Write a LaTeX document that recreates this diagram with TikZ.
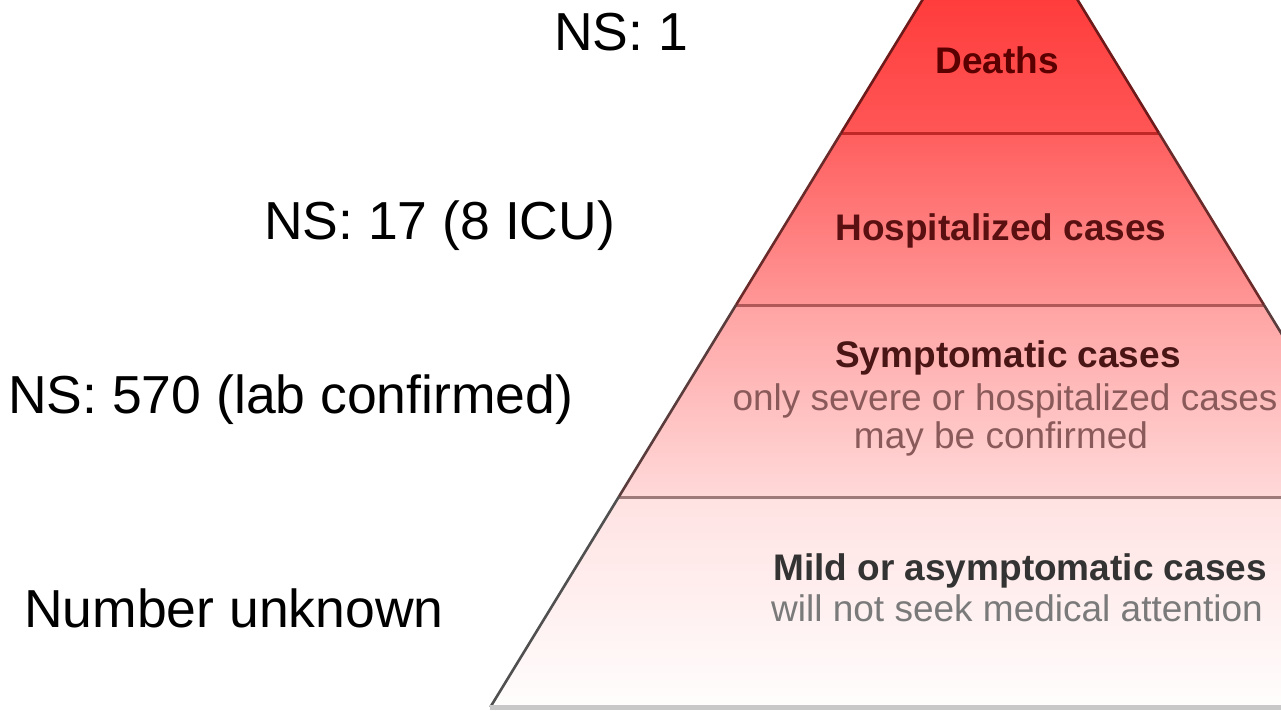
\documentclass[tikz,border=0pt]{standalone}
\usepackage{fontspec}
\setmainfont{Liberation Sans}
\definecolor{bandAtop}{HTML}{FF2424}
\definecolor{bandAbot}{HTML}{FF5656}
\definecolor{bandBtop}{HTML}{FF5E5E}
\definecolor{bandBbot}{HTML}{FF9797}
\definecolor{bandCtop}{HTML}{FFA3A3}
\definecolor{bandCbot}{HTML}{FFD9D9}
\definecolor{bandDtop}{HTML}{FFE2E2}
\definecolor{bandDbot}{HTML}{FFFDFD}
\definecolor{divA}{HTML}{C02828}
\definecolor{divB}{HTML}{B05858}
\definecolor{divC}{HTML}{9E7A7A}
\definecolor{edgeA}{HTML}{6E1A1A}
\definecolor{edgeB}{HTML}{6A2A2A}
\definecolor{edgeC}{HTML}{5A3C3C}
\definecolor{edgeD}{HTML}{505050}
\definecolor{txtA}{HTML}{5A0000}
\definecolor{txtB}{HTML}{5A1010}
\definecolor{txtC}{HTML}{4A1515}
\definecolor{subC}{HTML}{8A5A5A}
\definecolor{txtD}{HTML}{333333}
\definecolor{subD}{HTML}{7A7A7A}
\definecolor{baseGray}{HTML}{C8C8C8}
\begin{document}
\begin{tikzpicture}[x=1pt,y=-1pt,
  lbl/.style={anchor=base west, inner sep=0pt, font=\fontsize{53.5}{62}\selectfont},
  ttl/.style={anchor=base, inner sep=0pt, font=\fontsize{37}{44}\selectfont\bfseries},
  sub/.style={anchor=base, inner sep=0pt, font=\fontsize{37}{44}\selectfont},
  edgeline/.style={line width=2.6pt},
  divline/.style={line width=3pt}]
\useasboundingbox (0,0) rectangle (1281,710);
\fill[white] (0,0) rectangle (1281,710);
\begin{scope}
\clip (0,0) rectangle (1281,710);
% pyramid corner coordinates
\coordinate (apex) at (1000,-127);
\coordinate (L1) at (841.1,133);  \coordinate (R1) at (1158.9,133);
\coordinate (L2) at (736.0,305);  \coordinate (R2) at (1264.0,305);
\coordinate (L3) at (618.7,497);  \coordinate (R3) at (1381.3,497);
\coordinate (L4) at (490.4,707);  \coordinate (R4) at (1509.6,707);
% bands
\shade[top color=bandAtop, bottom color=bandAbot] (apex) -- (L1) -- (R1) -- cycle;
\shade[top color=bandBtop, bottom color=bandBbot] (L1) -- (L2) -- (R2) -- (R1) -- cycle;
\shade[top color=bandCtop, bottom color=bandCbot] (L2) -- (L3) -- (R3) -- (R2) -- cycle;
\shade[top color=bandDtop, bottom color=bandDbot] (L3) -- (L4) -- (R4) -- (R3) -- cycle;
% dividing lines
\draw[divline, divA] (L1) -- (R1);
\draw[divline, divB] (L2) -- (R2);
\draw[divline, divC] (L3) -- (R3);
% outer edges
\draw[edgeline, edgeA] (L1) -- (apex) -- (R1);
\draw[edgeline, edgeB] (L1) -- (L2);
\draw[edgeline, edgeB] (R1) -- (R2);
\draw[edgeline, edgeC] (L2) -- (L3);
\draw[edgeline, edgeC] (R2) -- (R3);
\draw[edgeline, edgeD] (L3) -- (L4);
% bottom edge
\fill[baseGray] (490,704.5) rectangle (1281,710);
\end{scope}
% texts inside the pyramid
\node[ttl, text=txtA] (t1) at (997,73) {Deaths};
\node[ttl, text=txtB] (t2) at (1001,240) {Hospitalized cases};
\node[ttl, text=txtC] (t3) at (1008,367) {Symptomatic cases};
\node[sub, text=subC] (s3a) at (1005,410) {only severe or hospitalized cases};
\node[sub, text=subC] (s3b) at (1001,448) {may be confirmed};
\node[ttl, text=txtD] (t4) at (1020,580) {Mild or asymptomatic cases};
\node[sub, text=subD] (s4) at (1017,621) {will not seek medical attention};
% labels on the left
\node[lbl] (l1) at (554,50) {NS: 1};
\node[lbl] (l2) at (264,239) {NS: 17 (8 ICU)};
\node[lbl] (l3) at (8,413) {NS: 570 (lab confirmed)};
\node[lbl] (l4) at (24,627) {Number unknown};
\end{tikzpicture}
\end{document}
